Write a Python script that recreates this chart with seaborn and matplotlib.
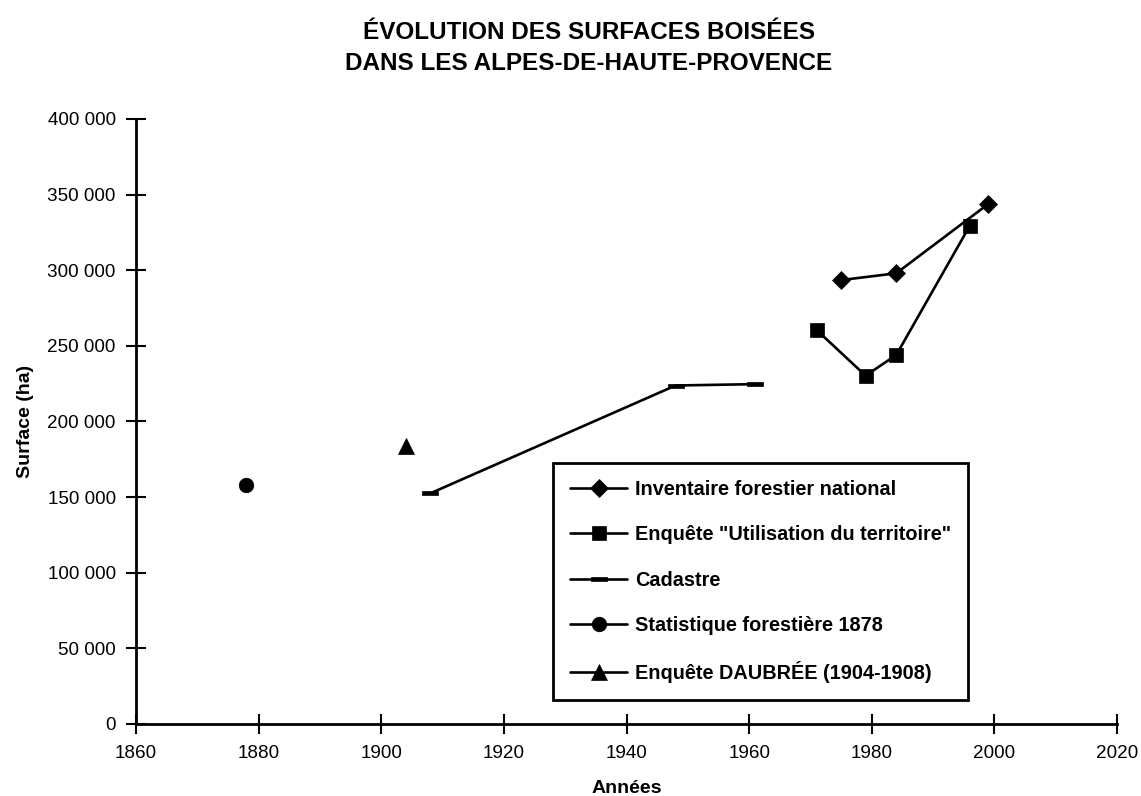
import matplotlib
matplotlib.use("Agg")
import matplotlib.pyplot as plt
from matplotlib.path import Path
from matplotlib.ticker import FuncFormatter, MultipleLocator
import seaborn as sns
import pandas as pd

# Forest surface estimates by source (hectares)
ifn_years = [1975, 1984, 1999]
ifn_surface = [293500, 298000, 343800]

teruti_years = [1971, 1979, 1984, 1996]
teruti_surface = [260500, 230300, 244000, 329500]

cadastre_years = [1908, 1948, 1961]
cadastre_surface = [152500, 223800, 224700]

stat1878_years = [1878]
stat1878_surface = [158000]

daubree_years = [1904]
daubree_surface = [183800]

series_names = [
    "Inventaire forestier national",
    'Enquête "Utilisation du territoire"',
    "Cadastre",
    "Statistique forestière 1878",
    "Enquête DAUBRÉE (1904-1908)",
]

sns.set_theme(style="white", rc={
    "text.color": "black",
    "axes.labelcolor": "black",
    "xtick.color": "black",
    "ytick.color": "black",
    "xtick.bottom": True,
    "ytick.left": True,
})
plt.rcParams["font.family"] = ["Liberation Sans", "DejaVu Sans"]

# flat bar marker for the cadastre series
bar_marker = Path([(-1, -0.3), (1, -0.3), (1, 0.3), (-1, 0.3), (-1, -0.3)],
                  [Path.MOVETO, Path.LINETO, Path.LINETO, Path.LINETO, Path.CLOSEPOLY])

series = [
    (ifn_years, ifn_surface, "D", 9),
    (teruti_years, teruti_surface, "s", 10.5),
    (cadastre_years, cadastre_surface, bar_marker, 11),
    (stat1878_years, stat1878_surface, "o", 10.5),
    (daubree_years, daubree_surface, "^", 11),
]

fig = plt.figure(figsize=(11.41, 7.96), dpi=100)
ax = fig.add_axes([136 / 1141, 1 - 724 / 796, (1117 - 136) / 1141, (724 - 119) / 796])

for name, (xs, ys, mk, ms) in zip(series_names, series):
    df = pd.DataFrame({"annee": xs, "surface": ys})
    sns.lineplot(data=df, x="annee", y="surface", ax=ax, color="black",
                 linewidth=1.9, marker=mk, markersize=ms,
                 markeredgecolor="black", markerfacecolor="black",
                 markeredgewidth=0.5, errorbar=None, label=name)

ax.set_xlim(1860, 2020)
ax.set_ylim(0, 400000)
ax.xaxis.set_major_locator(MultipleLocator(20))
ax.yaxis.set_major_locator(MultipleLocator(50000))
ax.yaxis.set_major_formatter(FuncFormatter(lambda v, p: f"{int(v):,}".replace(",", " ")))

for side in ("top", "right"):
    ax.spines[side].set_visible(False)
for side in ("left", "bottom"):
    ax.spines[side].set_color("black")
    ax.spines[side].set_linewidth(2)

ax.tick_params(axis="both", which="major", direction="inout", length=15, width=1.5,
               colors="black", labelsize=13.6, bottom=True, left=True)
ax.tick_params(axis="x", pad=7.5)
ax.tick_params(axis="y", pad=7)

ax.set_xlabel("Années", fontsize=14, fontweight="bold", labelpad=13)
ax.set_ylabel("Surface (ha)", fontsize=14, fontweight="bold", labelpad=10)

leg = ax.legend(loc="upper left", bbox_to_anchor=(0.425, 0.431), borderaxespad=0,
                frameon=True, fancybox=False, framealpha=1, edgecolor="black",
                prop={"weight": "bold", "size": 14.3}, handlelength=2.9,
                handletextpad=0.4, labelspacing=1.32, borderpad=0.85)
leg.get_frame().set_linewidth(2)

fig.text(589 / 1141, 1 - 48 / 796,
         "ÉVOLUTION DES SURFACES BOISÉES\nDANS LES ALPES-DE-HAUTE-PROVENCE",
         ha="center", va="center", fontsize=17.5, fontweight="bold",
         linespacing=1.45)

fig.savefig("out.png", dpi=100)
